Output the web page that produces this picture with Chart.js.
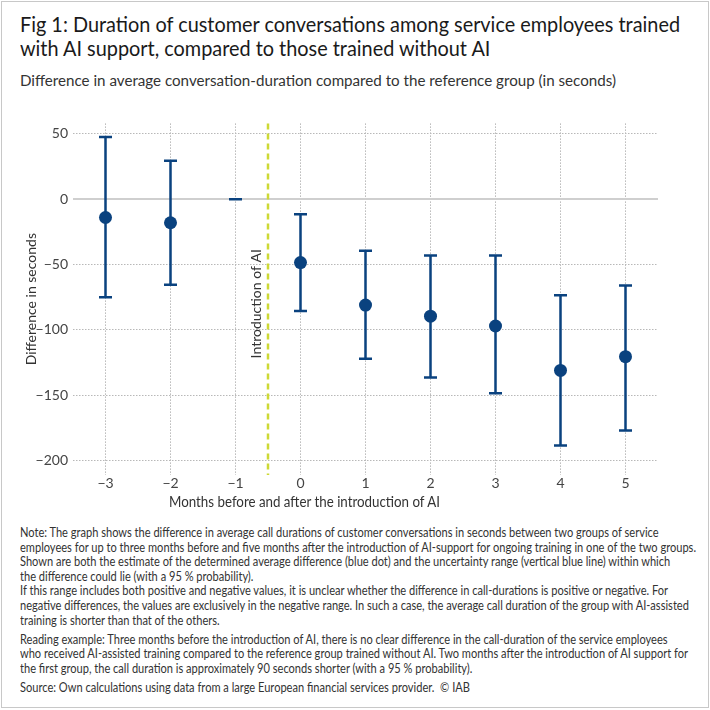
<!DOCTYPE html>
<html>
<head>
<meta charset="utf-8">
<script src="https://cdn.jsdelivr.net/npm/chart.js@4.4.1/dist/chart.umd.min.js"></script>
<style>
  html, body { margin: 0; padding: 0; background: #fff; }
  #wrap { position: relative; width: 710px; height: 710px; overflow: hidden; font-family: 'Lato', sans-serif; color: #222; }
  #frame { position: absolute; left: 1px; top: 1px; width: 706px; height: 705px; border: 1px solid #c8c8c8; }
  .fit { display: inline-block; white-space: nowrap; transform-origin: 0 0; }
  #title { position: absolute; left: 20px; top: 12px; font-size: 21px; line-height: 24px; color: #1a1a1a; }
  #subtitle { position: absolute; left: 20px; top: 70px; font-size: 15.5px; line-height: 20px; color: #333; }
  #chartBox { position: absolute; left: 0; top: 110px; width: 710px; height: 395px; }
  #xtitle { position: absolute; left: 169px; top: 492px; font-size: 15px; line-height: 18px; color: #333; }
  #note { position: absolute; left: 20px; top: 526px; font-size: 12.6px; line-height: 14.6px; color: #333; }
  #note .gap { height: 4.5px; }
</style>
</head>
<body>
<div id="wrap">
  <div id="frame"></div>
  <div id="title" class="fit" data-w="660">Fig 1: Duration of customer conversations among service employees trained<br>with AI support, compared to those trained without AI</div>
  <div id="subtitle" class="fit" data-w="596">Difference in average conversation-duration compared to the reference group (in seconds)</div>
  <div id="chartBox"><canvas id="c"></canvas></div>
  <div id="xtitle" class="fit" data-w="271">Months before and after the introduction of AI</div>
  <div id="note" class="fit" data-w="676">
    <div>Note: The graph shows the difference in average call durations of customer conversations in seconds between two groups of service</div>
    <div>employees for up to three months before and five months after the introduction of AI-support for ongoing training in one of the two groups.</div>
    <div>Shown are both the estimate of the determined average difference (blue dot) and the uncertainty range (vertical blue line) within which</div>
    <div>the difference could lie (with a 95 % probability).</div>
    <div>If this range includes both positive and negative values, it is unclear whether the difference in call-durations is positive or negative. For</div>
    <div>negative differences, the values are exclusively in the negative range. In such a case, the average call duration of the group with AI-assisted</div>
    <div>training is shorter than that of the others.</div>
    <div class="gap"></div>
    <div>Reading example: Three months before the introduction of AI, there is no clear difference in the call-duration of the service employees</div>
    <div>who received AI-assisted training compared to the reference group trained without AI. Two months after the introduction of AI support for</div>
    <div>the first group, the call duration is approximately 90 seconds shorter (with a 95 % probability).</div>
    <div class="gap"></div>
    <div>Source: Own calculations using data from a large European financial services provider.&nbsp; © IAB</div>
  </div>
</div>
<script>
const months   = [-3, -2, -1, 0, 1, 2, 3, 4, 5];
const estimate = [-14, -18, 0, -48.5, -81, -89.5, -97, -131, -120.5];
const upper    = [47.5, 29.5, 0, -11.5, -39.5, -43, -43, -73.5, -66];
const lower    = [-75, -65.5, 0, -85.5, -122, -136.5, -148.5, -188.5, -177];
const yTicks   = [50, 0, -50, -100, -150, -200];
const introAt  = -0.5;
const introLabel = 'Introduction of AI';
const yTitle   = 'Difference in seconds';

const NAVY = '#0a427f';
const FONT = "'Lato', sans-serif";
const fmt = v => (v < 0 ? '\u2212' + Math.abs(v) : String(v));

function fitText() {
  document.querySelectorAll('.fit').forEach(el => {
    el.style.transform = 'none';
    const w = el.getBoundingClientRect().width;
    const target = parseFloat(el.dataset.w);
    if (w > 0) el.style.transform = 'scaleX(' + (target / w) + ')';
  });
}
fitText();
if (document.fonts && document.fonts.ready) document.fonts.ready.then(fitText);

const errorBars = {
  id: 'errorBars',
  beforeDatasetsDraw(chart) {
    const { ctx, chartArea, scales: { x, y } } = chart;
    const xi = x.getPixelForValue(introAt);
    ctx.save();
    ctx.strokeStyle = '#cdd935';
    ctx.lineWidth = 2.5;
    ctx.setLineDash([6, 4]);
    ctx.beginPath();
    ctx.moveTo(xi, chartArea.top);
    ctx.lineTo(xi, chartArea.bottom);
    ctx.stroke();
    ctx.setLineDash([]);
    ctx.translate(xi - 12, y.getPixelForValue(-80));
    ctx.rotate(-Math.PI / 2);
    ctx.fillStyle = '#333';
    ctx.font = '14px ' + FONT;
    ctx.textAlign = 'center';
    ctx.textBaseline = 'middle';
    ctx.fillText(introLabel, 0, 0);
    ctx.restore();
    ctx.save();
    ctx.strokeStyle = NAVY;
    ctx.lineWidth = 2.5;
    const cap = 6.5;
    months.forEach((m, i) => {
      const px = x.getPixelForValue(m);
      const pu = y.getPixelForValue(upper[i]);
      const pl = y.getPixelForValue(lower[i]);
      ctx.beginPath();
      ctx.moveTo(px, pu); ctx.lineTo(px, pl);
      ctx.moveTo(px - cap, pu); ctx.lineTo(px + cap, pu);
      ctx.moveTo(px - cap, pl); ctx.lineTo(px + cap, pl);
      ctx.stroke();
    });
    ctx.restore();
  }
};

new Chart(document.getElementById('c'), {
  type: 'scatter',
  data: {
    datasets: [{
      data: months.map((m, i) => ({ x: m, y: estimate[i] })),
      backgroundColor: NAVY,
      borderColor: NAVY,
      pointRadius: ctx => (upper[ctx.dataIndex] === lower[ctx.dataIndex] ? 0 : 6.5),
      pointHoverRadius: ctx => (upper[ctx.dataIndex] === lower[ctx.dataIndex] ? 0 : 6.5),
      pointBorderWidth: 0
    }]
  },
  options: {
    responsive: true,
    maintainAspectRatio: false,
    animation: false,
    layout: { padding: { left: 0, right: 52, top: 10, bottom: 0 } },
    plugins: { legend: { display: false }, tooltip: { enabled: false } },
    scales: {
      x: {
        type: 'linear',
        min: -3.5,
        max: 5.5,
        afterBuildTicks: s => { s.ticks = months.map(v => ({ value: v })); },
        afterFit: s => { s.height = 30; },
        ticks: { callback: v => fmt(v), color: '#444', font: { family: FONT, size: 14 }, padding: 0 },
        grid: { color: '#b8b8b8', lineWidth: 1, drawTicks: false },
        border: { display: false, dash: [1.5, 1.5] }
      },
      y: {
        type: 'linear',
        min: -211,
        max: 58,
        afterBuildTicks: s => { s.ticks = yTicks.map(v => ({ value: v })); },
        afterFit: s => { s.width = 73; },
        ticks: { callback: v => fmt(v), color: '#444', font: { family: FONT, size: 14 }, padding: 5 },
        grid: {
          color: c => (c.tick && c.tick.value === 0 ? '#cfcfcf' : '#b8b8b8'),
          lineWidth: c => (c.tick && c.tick.value === 0 ? 2 : 1),
          drawTicks: false
        },
        border: { display: false, dash: c => (c.tick && c.tick.value === 0 ? [] : [1.5, 1.5]) },
        title: { display: true, text: yTitle, color: '#333', font: { family: FONT, size: 14 }, padding: { top: 23, bottom: 0 } }
      }
    }
  },
  plugins: [errorBars]
});
</script>
</body>
</html>
